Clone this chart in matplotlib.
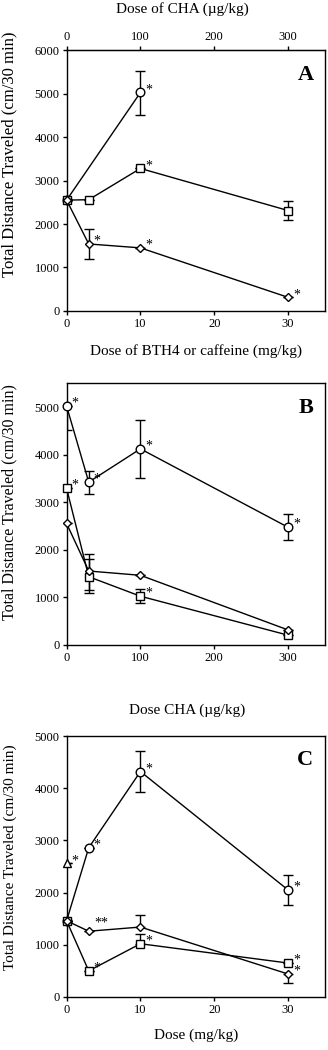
import numpy as np
import matplotlib.pyplot as plt

plt.rcParams['font.family'] = ['Liberation Serif', 'DejaVu Serif']
plt.rcParams['font.size'] = 9

# ==========================
# Panel A data (x = mg/kg, top axis = CHA ug/kg)
# ==========================
a_x_circ = [0, 10]
a_circ = [2550, 5030]
a_circ_lo = [0, 510]
a_circ_hi = [0, 500]
a_circ_star = [False, True]

a_x_sq = [0, 3, 10, 30]
a_sq = [2550, 2560, 3280, 2310]
a_sq_lo = [0, 0, 0, 210]
a_sq_hi = [0, 0, 0, 220]
a_sq_star = [False, False, True, False]

a_x_dia = [0, 3, 10, 30]
a_dia = [2550, 1540, 1450, 310]
a_dia_lo = [0, 340, 0, 0]
a_dia_hi = [0, 340, 0, 0]
a_dia_star = [False, True, True, True]

# ==========================
# Panel B data (x = CHA ug/kg)
# ==========================
b_x = [0, 30, 100, 300]
b_circ = [5020, 3420, 4120, 2470]
b_circ_lo = [500, 250, 610, 270]
b_circ_hi = [0, 230, 600, 280]
b_circ_star = [True, True, True, True]

b_sq = [3290, 1430, 1020, 200]
b_sq_lo = [0, 345, 150, 0]
b_sq_hi = [0, 380, 150, 0]
b_sq_star = [True, False, True, False]

b_dia = [2550, 1550, 1460, 310]
b_dia_lo = [0, 390, 0, 0]
b_dia_hi = [0, 350, 0, 0]
b_dia_star = [False, False, False, False]

# ==========================
# Panel C data (x = mg/kg)
# ==========================
c_x = [0, 3, 10, 30]
c_circ = [1460, 2860, 4320, 2050]
c_circ_lo = [0, 0, 390, 290]
c_circ_hi = [0, 0, 390, 290]
c_circ_star = [False, True, True, True]

c_sq = [1460, 500, 1020, 650]
c_sq_lo = [0, 0, 0, 0]
c_sq_hi = [0, 0, 180, 0]
c_sq_star = [False, True, True, True]

c_dia = [1460, 1260, 1340, 440]
c_dia_lo = [0, 0, 0, 180]
c_dia_hi = [0, 0, 230, 0]
c_dia_star = [False, False, False, True]
c_dia_star2 = [False, True, False, False]

c_x_tri = [0]
c_tri = [2560]


def series(ax, x, y, lo, hi, marker, stars, ms=6.2, stars2=None, star_dx=6, star_dy=2):
    ax.errorbar(x, y, yerr=[lo, hi], fmt='none', ecolor='black',
                elinewidth=1.0, capsize=3.5, capthick=1.0, zorder=2)
    ax.plot(x, y, color='black', lw=1.0, marker=marker, ms=ms,
            mfc='white', mec='black', mew=1.0, zorder=3, clip_on=False)
    for xi, yi, s in zip(x, y, stars):
        if s:
            ax.annotate('*', (xi, yi), xytext=(star_dx, star_dy),
                        textcoords='offset points', fontsize=10, va='center', ha='center')
    if stars2 is not None:
        for xi, yi, s in zip(x, y, stars2):
            if s:
                ax.annotate('**', (xi, yi), xytext=(9, 6),
                            textcoords='offset points', fontsize=10, va='center', ha='center')


def style(ax, letter, ysize, ypos):
    for sp in ax.spines.values():
        sp.set_linewidth(1.0)
    ax.tick_params(direction='out', length=3, width=1.0, labelsize=9, pad=2)
    ax.set_ylabel('Total Distance Traveled (cm/30 min)', fontsize=ysize)
    ax.yaxis.set_label_coords(-0.19, ypos)
    ax.text(0.955, 0.945, letter, transform=ax.transAxes, fontsize=16,
            fontweight='bold', ha='right', va='top')


fig = plt.figure(figsize=(3.28, 10.5), dpi=100)

# ---- A ----
axA = fig.add_axes([0.203, 0.704, 0.788, 0.248])
series(axA, a_x_circ, a_circ, a_circ_lo, a_circ_hi, 'o', a_circ_star)
series(axA, a_x_sq, a_sq, a_sq_lo, a_sq_hi, 's', a_sq_star)
series(axA, a_x_dia, a_dia, a_dia_lo, a_dia_hi, 'D', a_dia_star, ms=4.3)
axA.set_xlim(0, 35)
axA.set_ylim(0, 6000)
axA.set_xticks([0, 10, 20, 30])
axA.set_yticks([0, 1000, 2000, 3000, 4000, 5000, 6000])
axA.set_xlabel('Dose of BTH4 or caffeine (mg/kg)', fontsize=11, labelpad=10)
top = axA.secondary_xaxis('top', functions=(lambda v: v * 10, lambda v: v / 10))
top.set_xticks([0, 100, 200, 300])
top.tick_params(direction='out', length=3, width=1.0, labelsize=9, pad=2)
fig.text(182 / 328, 1 - 9 / 1050, 'Dose of CHA (µg/kg)', fontsize=11,
         ha='center', va='center')
style(axA, 'A', 12, 0.6)

# ---- B ----
axB = fig.add_axes([0.203, 0.386, 0.788, 0.249])
series(axB, b_x, b_circ, b_circ_lo, b_circ_hi, 'o', b_circ_star)
series(axB, b_x, b_sq, b_sq_lo, b_sq_hi, 's', b_sq_star)
series(axB, b_x, b_dia, b_dia_lo, b_dia_hi, 'D', b_dia_star, ms=4.3)
axB.set_xlim(0, 350)
axB.set_ylim(0, 5500)
axB.set_xticks([0, 100, 200, 300])
axB.set_yticks([0, 1000, 2000, 3000, 4000, 5000])
axB.set_xlabel('Dose CHA (µg/kg)', fontsize=11)
axB.xaxis.set_label_coords(0.465, -0.225)
style(axB, 'B', 11.5, 0.546)

# ---- C ----
axC = fig.add_axes([0.203, 0.0505, 0.788, 0.2485])
series(axC, c_x, c_circ, c_circ_lo, c_circ_hi, 'o', c_circ_star)
series(axC, c_x, c_sq, c_sq_lo, c_sq_hi, 's', c_sq_star)
series(axC, c_x, c_dia, c_dia_lo, c_dia_hi, 'D', c_dia_star, ms=4.3, stars2=c_dia_star2)
series(axC, c_x_tri, c_tri, [0], [0], '^', [True])
axC.set_xlim(0, 35)
axC.set_ylim(0, 5000)
axC.set_xticks([0, 10, 20, 30])
axC.set_yticks([0, 1000, 2000, 3000, 4000, 5000])
axC.set_xlabel('Dose (mg/kg)', fontsize=11, labelpad=9)
style(axC, 'C', 11, 0.536)

fig.savefig('out.png', dpi=100)
